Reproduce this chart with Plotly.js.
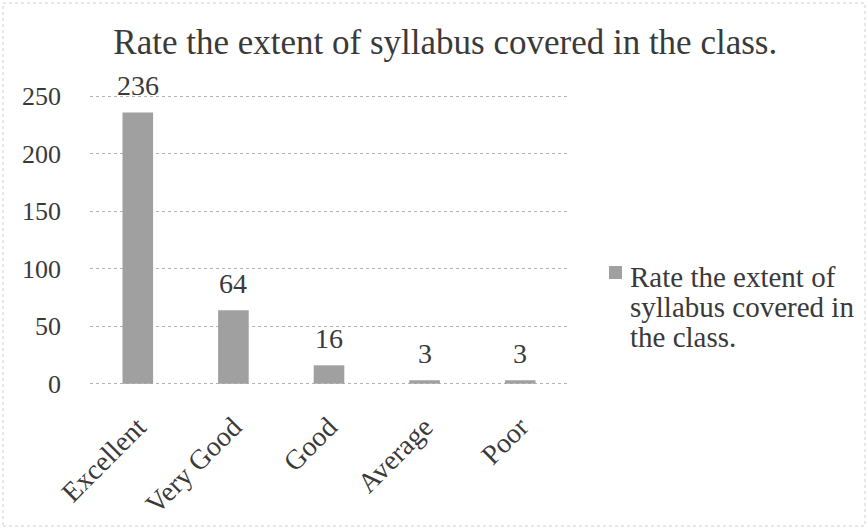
<!DOCTYPE html>
<html>
<head>
<meta charset="utf-8">
<script src="https://cdn.plot.ly/plotly-3.0.1.min.js"></script>
<style>html,body{margin:0;padding:0;background:#fff;}#chart{width:868px;height:529px;}</style>
</head>
<body>
<div id="chart"></div>
<script>
const chartTitle = "Rate the extent of syllabus covered in the class.";
const seriesName = "Rate the extent of syllabus covered in the class.";
const legendLines = ["Rate the extent of", "syllabus covered in", "the class."];
const categories = ["Excellent", "Very Good", "Good", "Average", "Poor"];
const values = [236, 64, 16, 3, 3];
const yTicks = [0, 50, 100, 150, 200, 250];

const font = "Liberation Serif, Times New Roman, serif";
const textColor = "#3a3a3a";
const barColor = "#a0a0a0";

const trace = {
  type: "bar",
  x: categories,
  y: values,
  name: seriesName,
  marker: {color: barColor, line: {width: 0}},
  showlegend: false
};

// plot area: x 90..568 px, y 94..386 px
const pxX = px => (px - 90) / 478;
const pxY = py => (386 - py) / 292;

const annotations = categories.map((c, i) => ({
  x: c, y: values[i], xref: "x", yref: "y",
  text: String(values[i]), showarrow: false,
  yanchor: "bottom", yshift: 9,
  font: {family: font, size: 28, color: textColor}
}));

// legend text block (small base size sets the tight line spacing)
annotations.push({
  x: pxX(628), y: pxY(307), xref: "paper", yref: "paper",
  xanchor: "left", yanchor: "middle", align: "left", showarrow: false,
  text: legendLines.map(t => '<span style="font-size:29px">' + t + '</span>').join("<br>"),
  font: {family: font, size: 23, color: textColor}
});

const layout = {
  width: 868, height: 529,
  margin: {l: 90, r: 300, t: 94, b: 143},
  paper_bgcolor: "#ffffff", plot_bgcolor: "#ffffff",
  font: {family: font, size: 26, color: textColor},
  title: {
    text: chartTitle, x: 0.513, xanchor: "center", xref: "container",
    y: 0.921, yanchor: "middle", yref: "container",
    font: {family: font, size: 35, color: textColor}
  },
  xaxis: {
    type: "category", tickangle: -45, showgrid: false, zeroline: false,
    showline: false, ticks: "", ticklabelstandoff: 18,
    tickfont: {family: font, size: 28, color: textColor}
  },
  yaxis: {
    range: [-2, 252], tickvals: yTicks, showgrid: true, gridcolor: "#b4b4b4",
    griddash: "dot", gridwidth: 1, zeroline: false, showline: false,
    ticks: "", ticklabelstandoff: 28,
    tickfont: {family: font, size: 26, color: textColor}
  },
  bargap: 0.68,
  showlegend: false,
  annotations: annotations,
  shapes: [
    {
      type: "rect", xref: "paper", yref: "paper",
      x0: pxX(3), x1: pxX(865), y0: pxY(526), y1: pxY(3),
      line: {color: "#d0d0d0", width: 1, dash: "dot"}, fillcolor: "rgba(0,0,0,0)"
    },
    {
      type: "rect", xref: "paper", yref: "paper",
      x0: pxX(609), x1: pxX(622), y0: pxY(279), y1: pxY(266),
      line: {width: 0}, fillcolor: barColor
    }
  ]
};

Plotly.newPlot("chart", [trace], layout, {displayModeBar: false, staticPlot: true});
</script>
</body>
</html>
